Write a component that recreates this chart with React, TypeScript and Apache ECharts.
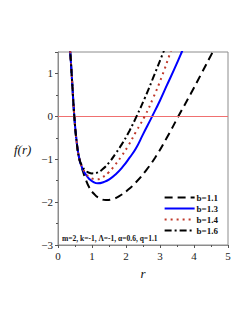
import React, { useEffect, useRef } from "react";
import * as echarts from "echarts";

const b11R = [0.33, 0.36, 0.42, 0.48, 0.55, 0.63, 0.72, 0.82, 0.92, 1.05, 1.2, 1.41, 1.6, 1.8, 2.05, 2.29, 2.55, 2.85, 3.2, 3.54, 3.9, 4.22, 4.55, 4.62];
const b11F = [1.8, 1.5, 0.75, 0.0, -0.6, -1.0, -1.25, -1.48, -1.66, -1.8, -1.9, -1.95, -1.93, -1.86, -1.72, -1.54, -1.3, -0.97, -0.5, 0.0, 0.52, 1.0, 1.5, 1.6];
const b13R = [0.33, 0.36, 0.42, 0.48, 0.55, 0.63, 0.72, 0.82, 0.92, 1.02, 1.17, 1.35, 1.51, 1.7, 1.9, 2.1, 2.29, 2.5, 2.77, 3.0, 3.2, 3.42, 3.64, 3.7];
const b13F = [1.8, 1.5, 0.75, 0.0, -0.6, -1.0, -1.22, -1.36, -1.46, -1.52, -1.56, -1.53, -1.47, -1.35, -1.18, -0.97, -0.75, -0.42, 0.0, 0.37, 0.72, 1.1, 1.5, 1.62];
const b14R = [0.33, 0.36, 0.42, 0.48, 0.55, 0.63, 0.72, 0.82, 0.92, 1.05, 1.15, 1.31, 1.5, 1.66, 1.85, 2.07, 2.3, 2.55, 2.8, 3.05, 3.31, 3.36];
const b14F = [1.8, 1.5, 0.75, 0.0, -0.6, -1.0, -1.2, -1.33, -1.41, -1.46, -1.47, -1.42, -1.3, -1.15, -0.95, -0.68, -0.35, 0.0, 0.43, 0.92, 1.5, 1.62];
const b16R = [0.33, 0.36, 0.42, 0.48, 0.55, 0.63, 0.72, 0.8, 0.9, 1.0, 1.12, 1.3, 1.51, 1.7, 1.87, 2.1, 2.31, 2.55, 2.8, 3.1, 3.15];
const b16F = [1.8, 1.5, 0.75, 0.0, -0.6, -1.0, -1.17, -1.26, -1.31, -1.33, -1.32, -1.24, -1.07, -0.86, -0.66, -0.34, 0.0, 0.42, 0.9, 1.5, 1.6];

const legendNames = ["b=1.1", "b=1.3", "b=1.4", "b=1.6"];
const xTicks = [0, 1, 2, 3, 4, 5];
const yTicks = [-3, -2, -1, 0, 1];
const noteText = "m=2, k=-1, \u039B=-1, \u03B1=0.6, q=1.1";

const zip = (r: number[], f: number[]) => r.map((v, i) => [v, f[i]]);

export default function App() {
  const ref = useRef<HTMLDivElement>(null);
  useEffect(() => {
    if (!ref.current) return;
    const chart = echarts.init(ref.current, null, { renderer: "svg" });
    const serif = "Liberation Serif";
    const common = {
      type: "line",
      smooth: 0.5,
      symbol: "none",
    };
    chart.setOption({
      animation: false,
      backgroundColor: "#ffffff",
      grid: {
        left: 58,
        right: 21,
        top: 52,
        bottom: 78,
        show: true,
        borderColor: "#8c8c8c",
        borderWidth: 1,
        backgroundColor: "transparent",
      },
      xAxis: {
        type: "value",
        min: 0,
        max: 5,
        interval: 1,
        axisLine: { show: true, onZero: false, lineStyle: { color: "#8c8c8c" } },
        axisTick: { show: true, inside: false, length: 3, lineStyle: { color: "#555" } },
        minorTick: { show: true, splitNumber: 2, length: 2, lineStyle: { color: "#555" } },
        splitLine: { show: false },
        axisLabel: {
          color: "#222",
          fontFamily: serif,
          fontSize: 11,
          margin: 5,
          formatter: (v: number) => (xTicks.includes(v) ? String(v) : ""),
        },
        name: "r",
        nameLocation: "middle",
        nameGap: 22,
        nameTextStyle: { fontFamily: serif, fontStyle: "italic", fontSize: 13, color: "#111" },
      },
      yAxis: {
        type: "value",
        min: -3,
        max: 1.5,
        interval: 1,
        axisLine: { show: true, onZero: false, lineStyle: { color: "#8c8c8c" } },
        axisTick: { show: true, inside: false, length: 3, lineStyle: { color: "#555" } },
        minorTick: { show: true, splitNumber: 2, length: 2, lineStyle: { color: "#555" } },
        splitLine: { show: false },
        axisLabel: {
          color: "#222",
          fontFamily: serif,
          fontSize: 11,
          margin: 5,
          formatter: (v: number) =>
            yTicks.includes(v) ? String(v).replace("-", "\u2212") : "",
        },
      },
      legend: {
        orient: "vertical",
        right: 26,
        top: 188,
        itemWidth: 30,
        itemHeight: 10,
        itemGap: 2,
        data: legendNames,
        itemStyle: { opacity: 0 },
        textStyle: { fontFamily: serif, fontWeight: "bold", fontSize: 9, color: "#111", padding: [0, 0, 0, -3] },
      },
      graphic: [
        {
          type: "text",
          left: 62,
          top: 234,
          style: { text: noteText, font: "bold 7.5px 'Liberation Serif'", fill: "#111" },
        },
        {
          type: "text",
          left: 14,
          top: 143,
          style: { text: "f(r)", font: "italic 13px 'Liberation Serif'", fill: "#111" },
        },
      ],
      series: [
        {
          ...common,
          name: legendNames[0],
          data: zip(b11R, b11F),
          lineStyle: { color: "#000", width: 2, type: [8, 5] },
          itemStyle: { color: "#000" },
          z: 3,
          markLine: {
            silent: true,
            symbol: "none",
            label: { show: false },
            lineStyle: { color: "#f07070", width: 1, type: "solid" },
            data: [{ yAxis: 0 }],
          },
        },
        {
          ...common,
          name: legendNames[1],
          data: zip(b13R, b13F),
          lineStyle: { color: "#0000ff", width: 2, type: "solid" },
          itemStyle: { color: "#0000ff" },
          z: 4,
        },
        {
          ...common,
          name: legendNames[2],
          data: zip(b14R, b14F),
          lineStyle: { color: "#c0392b", width: 2, type: [2, 4] },
          itemStyle: { color: "#c0392b" },
          z: 5,
        },
        {
          ...common,
          name: legendNames[3],
          data: zip(b16R, b16F),
          lineStyle: { color: "#000", width: 2, type: [7, 3, 2, 3] },
          itemStyle: { color: "#000" },
          z: 6,
        },
      ],
    });
    return () => chart.dispose();
  }, []);
  return (
    <div
      ref={ref}
      style={{ position: "fixed", left: 0, top: 0, width: 249, height: 323, background: "#fff" }}
    />
  );
}
